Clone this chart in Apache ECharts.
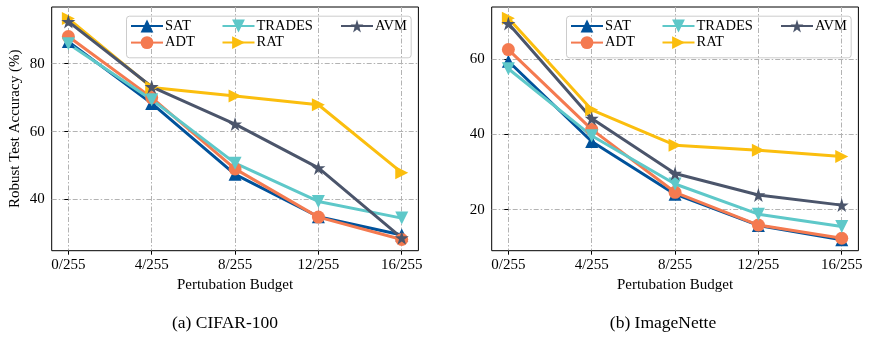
<!DOCTYPE html>
<html><head><meta charset="utf-8">
<script src="https://cdn.jsdelivr.net/npm/echarts@6/dist/echarts.min.js"></script>
<style>html,body{margin:0;padding:0;background:#fff}#c{width:872px;height:340px}</style>
</head><body><div id="c"></div>
<script>
const categories = ['0/255', '4/255', '8/255', '12/255', '16/255'];
const seriesNames = ['SAT', 'ADT', 'TRADES', 'RAT', 'AVM'];
const cifarSAT = [86.5, 68.3, 47.4, 34.9, 29.5];
const cifarADT = [88.0, 70.0, 49.0, 34.8, 28.2];
const cifarTRADES = [85.9, 69.4, 50.7, 39.4, 34.5];
const cifarRAT = [93.3, 73.0, 70.5, 67.9, 47.9];
const cifarAVM = [92.4, 73.2, 62.2, 49.3, 28.7];
const imnetSAT = [59.4, 38.1, 24.1, 15.8, 12.0];
const imnetADT = [62.5, 41.3, 24.6, 15.9, 12.4];
const imnetTRADES = [57.4, 39.6, 26.8, 18.8, 15.5];
const imnetRAT = [70.8, 46.5, 37.1, 35.8, 34.1];
const imnetAVM = [69.4, 44.2, 29.6, 23.9, 21.2];
const cifarYTicks = [40, 60, 80];
const imnetYTicks = [20, 40, 60];
const xTickIdx = [0, 1, 2, 3, 4];
const cifarYRange = [24.9, 96.7];
const imnetYRange = [9.1, 73.8];
const captions = ['(a) CIFAR-100', '(b) ImageNette'];
const yTitle = 'Robust Test Accuracy (%)';
const xTitle = 'Pertubation Budget';

const FONT = 'Liberation Serif';
const colors = {SAT: '#00529B', ADT: '#F47A50', TRADES: '#5EC8C9', RAT: '#FBBE0E', AVM: '#4B556B'};
const STAR = 'path://M100 0 L122.45 69.1 L195.1 69.1 L136.3 111.8 L158.8 180.9 L100 138.2 L41.2 180.9 L63.7 111.8 L4.9 69.1 L77.55 69.1 Z';
const symbols = {
  SAT: {symbol: 'triangle', rot: 0, size: 13},
  ADT: {symbol: 'circle', rot: 0, size: 13},
  TRADES: {symbol: 'triangle', rot: 180, size: 13},
  RAT: {symbol: 'triangle', rot: -90, size: 13},
  AVM: {symbol: STAR, rot: 0, size: 14}
};
const dataSets = [
  {SAT: cifarSAT, ADT: cifarADT, TRADES: cifarTRADES, RAT: cifarRAT, AVM: cifarAVM},
  {SAT: imnetSAT, ADT: imnetADT, TRADES: imnetTRADES, RAT: imnetRAT, AVM: imnetAVM}
];
const yTicks = [cifarYTicks, imnetYTicks];
const yRanges = [cifarYRange, imnetYRange];

const gridLefts = [51.7, 491.7];
const gridTop = 7, gridW = 366.7, gridH = 243.7;
const splitStyle = {color: '#b3b3b3', width: 1, type: [5, 2, 1.5, 2]};

const grids = [], xAxes = [], yAxes = [], series = [], legends = [], graphics = [];
for (let g = 0; g < 2; g++) {
  grids.push({left: gridLefts[g], top: gridTop, width: gridW, height: gridH, show: true, borderColor: '#000', borderWidth: 1, backgroundColor: 'transparent', containLabel: false});
  xAxes.push({
    type: 'value', gridIndex: g, min: -0.2, max: 4.2,
    name: xTitle, nameLocation: 'middle', nameGap: 26,
    nameTextStyle: {fontFamily: FONT, fontSize: 15, color: '#000'},
    axisLine: {show: false},
    axisTick: {show: true, length: 4, inside: false, lineStyle: {color: '#000', width: 1}, customValues: xTickIdx},
    axisLabel: {customValues: xTickIdx, margin: 7, fontFamily: FONT, fontSize: 15, color: '#000',
      formatter: v => categories[Math.round(v)]},
    splitLine: {show: true, lineStyle: splitStyle}
  });
  yAxes.push({
    type: 'value', gridIndex: g, min: yRanges[g][0], max: yRanges[g][1],
    name: g === 0 ? yTitle : '', nameLocation: 'middle', nameGap: 29,
    nameTextStyle: {fontFamily: FONT, fontSize: 15, color: '#000'},
    axisLine: {show: false},
    axisTick: {show: true, length: 4, lineStyle: {color: '#000', width: 1}, customValues: yTicks[g]},
    axisLabel: {customValues: yTicks[g], margin: 7, fontFamily: FONT, fontSize: 15, color: '#000'},
    splitLine: {show: true, lineStyle: splitStyle}
  });
  seriesNames.forEach(n => {
    series.push({
      type: 'line', name: n, xAxisIndex: g, yAxisIndex: g,
      data: dataSets[g][n].map((v, i) => [xTickIdx[i], v]),
      symbol: symbols[n].symbol, symbolRotate: symbols[n].rot, symbolSize: symbols[n].size,
      showAllSymbol: true,
      lineStyle: {color: colors[n], width: 3},
      itemStyle: {color: colors[n]},
      emphasis: {disabled: true},
      animation: false
    });
  });
  const off = gridLefts[g] - 51.7;
  const cols = [[['SAT', 'ADT'], 130], [['TRADES', 'RAT'], 221.5], [['AVM'], 340]];
  cols.forEach(([items, x]) => {
    legends.push({
      data: items, orient: 'vertical', left: x + off, top: 18.5,
      itemWidth: 32, itemHeight: 16, itemGap: 1.6, padding: 0,
      selectedMode: false,
      textStyle: {fontFamily: FONT, fontSize: 14.5, color: '#000', padding: [0, 0, 0, -3]}
    });
  });
  graphics.push({
    type: 'rect', left: 126 + off, top: 15.7, z: 0,
    shape: {width: 284.7, height: 41.6, r: 3},
    style: {fill: 'rgba(255,255,255,0.8)', stroke: '#cccccc', lineWidth: 1}
  });
  graphics.push({
    type: 'text', left: 'center', top: 314,
    x: 0,
    style: {text: captions[g], font: '17.5px "' + FONT + '"', fill: '#000'}
  });
}
graphics[1] = {type: 'text', x: 225, y: 323, style: {text: captions[0], font: '17.5px "' + FONT + '"', fill: '#000', align: 'center', verticalAlign: 'middle'}};
graphics[3] = {type: 'text', x: 663, y: 323, style: {text: captions[1], font: '17.5px "' + FONT + '"', fill: '#000', align: 'center', verticalAlign: 'middle'}};

const chart = echarts.init(document.getElementById('c'), null, {renderer: 'canvas'});
chart.setOption({
  animation: false,
  backgroundColor: '#fff',
  grid: grids, xAxis: xAxes, yAxis: yAxes, series: series, legend: legends,
  graphic: {elements: graphics}
});
</script></body></html>
